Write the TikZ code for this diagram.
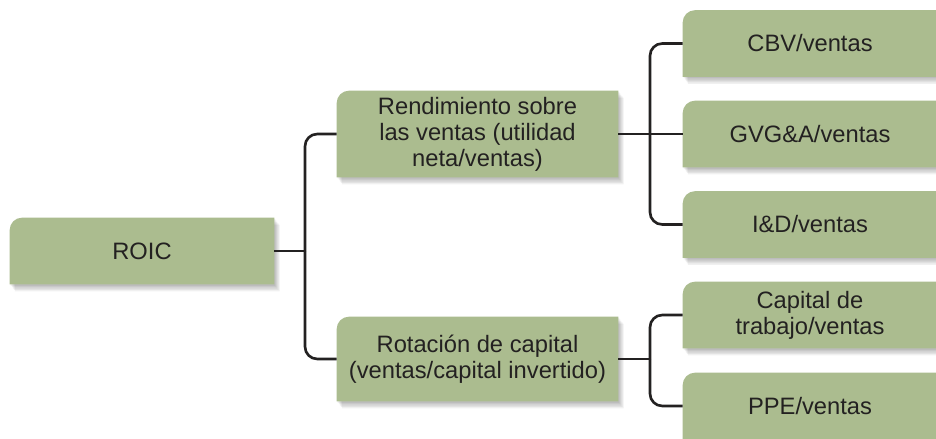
\documentclass[tikz,border=0pt]{standalone}
\usepackage{fontspec}
\setmainfont{Liberation Sans}
\usepackage{tikz}
\usetikzlibrary{backgrounds}

\definecolor{sage}{RGB}{171,188,143}
\definecolor{inkgray}{RGB}{35,33,33}

\tikzset{
    box/.style={align=center, inner sep=0pt, text=inkgray,
        font=\fontsize{13.5}{14.8}\selectfont},
    smallbox/.style={box, minimum width=5.08cm, minimum height=1.32cm},
    conn/.style={line width=1.5pt, draw=inkgray, rounded corners=7pt}
}

% box with only the top left corner rounded
\newcommand{\tabpath}[1]{(#1.south west) -- ([yshift=-7pt]#1.north west)
    arc[start angle=180, end angle=90, radius=7pt] -- (#1.north east)
    -- (#1.south east) -- cycle}

\begin{document}
\begin{tikzpicture}[x=0.02cm, y=-0.02cm]
    \useasboundingbox (0,0) rectangle (936,439);

    % Define nodes
    \node[box, minimum width=5.28cm, minimum height=1.32cm] (roic) at (142,251) {ROIC};

    \node[box, minimum width=5.62cm, minimum height=1.72cm] (rend) at (477.5,134)
        {Rendimiento sobre\\las ventas (utilidad\\neta/ventas)};
    \node[box, minimum width=5.62cm, minimum height=1.68cm] (rot) at (477.5,359)
        {Rotación de capital\\(ventas/capital invertido)};

    \node[smallbox] (cbv) at (810,43.5) {CBV/ventas};
    \node[smallbox] (gvg) at (810,134) {GVG\&A/ventas};
    \node[smallbox] (iyd) at (810,224.5) {I\&D/ventas};
    \node[smallbox] (ctv) at (810,315) {Capital de\\trabajo/ventas};
    \node[smallbox] (ppe) at (810,406) {PPE/ventas};

    % Boxes and shadows behind the text
    \begin{scope}[on background layer]
        \foreach \n in {roic,rend,rot,cbv,gvg,iyd,ctv,ppe} {
            \foreach \d in {1,...,5}
                \fill[black, opacity=0.06,
                    transform canvas={xshift=0.6*\d pt, yshift=-0.8*\d pt}] \tabpath{\n};
            \fill[sage] \tabpath{\n};
        }
    \end{scope}

    % Joints
    \coordinate (j1) at (305,251);
    \coordinate (j2) at (650,134);
    \coordinate (j3) at (650,359);

    % Draw connectors
    \draw[conn] (roic.east) -- (j1);
    \draw[conn] (j1) |- (rend.west);
    \draw[conn] (j1) |- (rot.west);

    \draw[conn] (rend.east) -- (gvg.west);
    \draw[conn] (j2) |- (cbv.west);
    \draw[conn] (j2) |- (iyd.west);

    \draw[conn] (rot.east) -- (j3);
    \draw[conn] (j3) |- (ctv.west);
    \draw[conn] (j3) |- (ppe.west);
\end{tikzpicture}
\end{document}
